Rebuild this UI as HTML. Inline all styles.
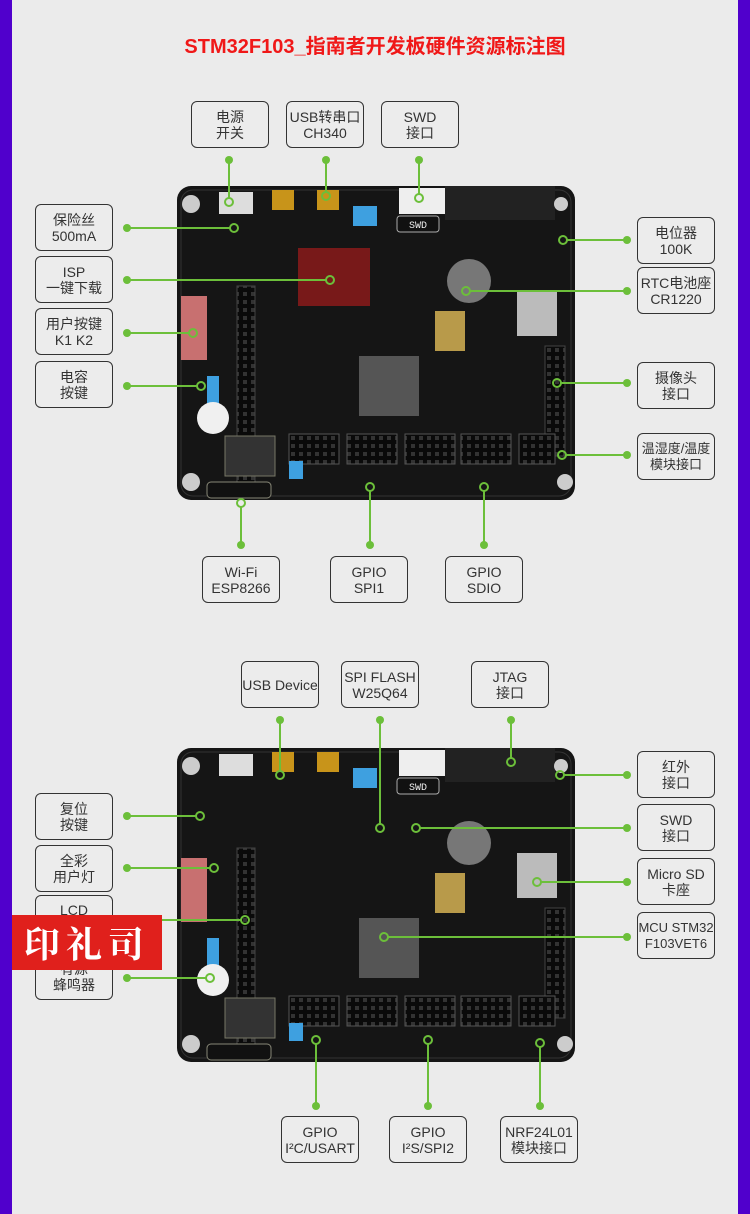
<!DOCTYPE html>
<html><head><meta charset="utf-8"><style>
html,body{margin:0;padding:0}
body{width:750px;height:1214px;background:#ebebeb;position:relative;overflow:hidden;font-family:"Liberation Sans","Noto Sans CJK SC",sans-serif}
.side{position:absolute;top:0;width:12px;height:1214px;background:#5000cc}
.box{position:absolute;width:76px;height:45px;border:1.5px solid #333;border-radius:6px;background:#ececec;display:flex;align-items:center;justify-content:center;text-align:center;font-size:14px;line-height:16px;color:#333;white-space:nowrap}
.title{position:absolute;top:30px;left:0;width:750px;text-align:center;color:#f01818;font-weight:bold;font-size:20px}
.logo{position:absolute;left:12px;top:915px;width:150px;height:55px;background:#e0201c;color:#fff;font-size:36px;font-weight:bold;display:flex;align-items:center;justify-content:center;letter-spacing:6px;font-family:"Noto Serif CJK SC",serif}
</style></head><body>
<div class="side" style="left:0"></div><div class="side" style="right:0"></div>
<div class="title">STM32F103_指南者开发板硬件资源标注图</div>
<svg width="750" height="1214" style="position:absolute;left:0;top:0">
<defs>
<pattern id="pins" width="8" height="8" patternUnits="userSpaceOnUse"><rect width="8" height="8" fill="#0a0a0a"/><rect x="2" y="2" width="4" height="4" fill="#333"/></pattern>
<g id="board">
<rect x="0" y="0" width="398" height="314" rx="14" fill="#151515"/>
<rect x="4" y="4" width="390" height="306" rx="12" fill="none" stroke="#333"/>
<rect x="42" y="6" width="34" height="22" fill="#ddd"/>
<rect x="95" y="4" width="22" height="20" fill="#c8941a"/>
<rect x="140" y="4" width="22" height="20" fill="#c8941a"/>
<rect x="176" y="20" width="24" height="20" fill="#3ea0e0"/>
<rect x="222" y="2" width="46" height="26" fill="#eee"/>
<rect x="220" y="30" width="42" height="16" rx="3" fill="#111" stroke="#aaa"/>
<text x="241" y="42" fill="#eee" font-size="10" text-anchor="middle" font-family="Liberation Mono">SWD</text>
<rect x="268" y="0" width="110" height="34" fill="#222"/>
<rect x="60" y="100" width="18" height="200" fill="url(#pins)" stroke="#444"/>
<rect x="4" y="110" width="26" height="64" fill="#c87070"/>
<rect x="30" y="190" width="12" height="50" fill="#3ea0e0"/>
<circle cx="36" cy="232" r="16" fill="#f0f0f0"/>
<circle cx="292" cy="95" r="22" fill="#777"/>
<rect x="340" y="105" width="40" height="45" fill="#bbb"/>
<rect x="258" y="125" width="30" height="40" fill="#b89a4a"/>
<rect x="182" y="170" width="60" height="60" fill="#555"/>
<rect x="368" y="160" width="20" height="110" fill="url(#pins)" stroke="#444"/>
<rect x="112" y="248" width="50" height="30" fill="url(#pins)" stroke="#555"/>
<rect x="170" y="248" width="50" height="30" fill="url(#pins)" stroke="#555"/>
<rect x="228" y="248" width="50" height="30" fill="url(#pins)" stroke="#555"/>
<rect x="284" y="248" width="50" height="30" fill="url(#pins)" stroke="#555"/>
<rect x="342" y="248" width="36" height="30" fill="url(#pins)" stroke="#555"/>
<rect x="112" y="275" width="14" height="18" fill="#3ea0e0"/>
<rect x="48" y="250" width="50" height="40" fill="#333" stroke="#776"/>
<rect x="30" y="296" width="64" height="16" rx="4" fill="#111" stroke="#887"/>
<circle cx="14" cy="18" r="9" fill="#ccc"/><circle cx="384" cy="18" r="7" fill="#ccc"/>
<circle cx="14" cy="296" r="9" fill="#ccc"/><circle cx="388" cy="296" r="8" fill="#ccc"/>
</g>
</defs>
<use href="#board" x="177" y="186"/>
<rect x="298" y="248" width="72" height="58" fill="#8a1a1a" opacity=".85"/>
<use href="#board" x="177" y="748"/>
<g stroke="#6cbf3a" stroke-width="2" fill="none">
<path d="M229 160V198M326 160V192M419 160V194M127 228H230M127 280H326M127 333H189M127 386H197M627 240H567M627 291H470M627 383H561M627 455H566M241 545V507M370 545V491M484 545V491"/>
<path d="M280 720V771M380 720V824M511 720V758M127 816H196M127 868H210M127 920H241M127 978H206M627 775H564M627 828H420M627 882H541M627 937H388M316 1106V1044M428 1106V1044M540 1106V1047"/>
<g>
<circle cx="229" cy="202" r="4"/><circle cx="326" cy="196" r="4"/><circle cx="419" cy="198" r="4"/>
<circle cx="234" cy="228" r="4"/><circle cx="330" cy="280" r="4"/><circle cx="193" cy="333" r="4"/><circle cx="201" cy="386" r="4"/>
<circle cx="563" cy="240" r="4"/><circle cx="466" cy="291" r="4"/><circle cx="557" cy="383" r="4"/><circle cx="562" cy="455" r="4"/>
<circle cx="241" cy="503" r="4"/><circle cx="370" cy="487" r="4"/><circle cx="484" cy="487" r="4"/>
<circle cx="280" cy="775" r="4"/><circle cx="380" cy="828" r="4"/><circle cx="511" cy="762" r="4"/>
<circle cx="200" cy="816" r="4"/><circle cx="214" cy="868" r="4"/><circle cx="245" cy="920" r="4"/><circle cx="210" cy="978" r="4"/>
<circle cx="560" cy="775" r="4"/><circle cx="416" cy="828" r="4"/><circle cx="537" cy="882" r="4"/><circle cx="384" cy="937" r="4"/>
<circle cx="316" cy="1040" r="4"/><circle cx="428" cy="1040" r="4"/><circle cx="540" cy="1043" r="4"/>
</g>
</g>
<g fill="#6cbf3a">
<circle cx="229" cy="160" r="4"/><circle cx="326" cy="160" r="4"/><circle cx="419" cy="160" r="4"/>
<circle cx="127" cy="228" r="4"/><circle cx="127" cy="280" r="4"/><circle cx="127" cy="333" r="4"/><circle cx="127" cy="386" r="4"/>
<circle cx="627" cy="240" r="4"/><circle cx="627" cy="291" r="4"/><circle cx="627" cy="383" r="4"/><circle cx="627" cy="455" r="4"/>
<circle cx="241" cy="545" r="4"/><circle cx="370" cy="545" r="4"/><circle cx="484" cy="545" r="4"/>
<circle cx="280" cy="720" r="4"/><circle cx="380" cy="720" r="4"/><circle cx="511" cy="720" r="4"/>
<circle cx="127" cy="816" r="4"/><circle cx="127" cy="868" r="4"/><circle cx="127" cy="920" r="4"/><circle cx="127" cy="978" r="4"/>
<circle cx="627" cy="775" r="4"/><circle cx="627" cy="828" r="4"/><circle cx="627" cy="882" r="4"/><circle cx="627" cy="937" r="4"/>
<circle cx="316" cy="1106" r="4"/><circle cx="428" cy="1106" r="4"/><circle cx="540" cy="1106" r="4"/>
</g>
</svg>
<div class="box" style="left:191px;top:101px">电源<br>开关</div>
<div class="box" style="left:286px;top:101px">USB转串口<br>CH340</div>
<div class="box" style="left:381px;top:101px">SWD<br>接口</div>
<div class="box" style="left:35px;top:204px">保险丝<br>500mA</div>
<div class="box" style="left:35px;top:256px">ISP<br>一键下载</div>
<div class="box" style="left:35px;top:308px">用户按键<br>K1 K2</div>
<div class="box" style="left:35px;top:361px">电容<br>按键</div>
<div class="box" style="left:637px;top:217px">电位器<br>100K</div>
<div class="box" style="left:637px;top:267px">RTC电池座<br>CR1220</div>
<div class="box" style="left:637px;top:362px">摄像头<br>接口</div>
<div class="box" style="left:637px;top:433px;font-size:13px">温湿度/温度<br>模块接口</div>
<div class="box" style="left:202px;top:556px">Wi-Fi<br>ESP8266</div>
<div class="box" style="left:330px;top:556px">GPIO<br>SPI1</div>
<div class="box" style="left:445px;top:556px">GPIO<br>SDIO</div>
<div class="box" style="left:241px;top:661px">USB Device</div>
<div class="box" style="left:341px;top:661px">SPI FLASH<br>W25Q64</div>
<div class="box" style="left:471px;top:661px">JTAG<br>接口</div>
<div class="box" style="left:35px;top:793px">复位<br>按键</div>
<div class="box" style="left:35px;top:845px">全彩<br>用户灯</div>
<div class="box" style="left:35px;top:895px;align-items:flex-start;padding-top:6px;height:39px">LCD</div>
<div class="box" style="left:35px;top:953px">有源<br>蜂鸣器</div>
<div class="box" style="left:637px;top:751px">红外<br>接口</div>
<div class="box" style="left:637px;top:804px">SWD<br>接口</div>
<div class="box" style="left:637px;top:858px">Micro SD<br>卡座</div>
<div class="box" style="left:637px;top:912px;font-size:13px">MCU STM32<br>F103VET6</div>
<div class="box" style="left:281px;top:1116px">GPIO<br>I²C/USART</div>
<div class="box" style="left:389px;top:1116px">GPIO<br>I²S/SPI2</div>
<div class="box" style="left:500px;top:1116px">NRF24L01<br>模块接口</div>
<div class="logo">印礼司</div>
</body></html>
